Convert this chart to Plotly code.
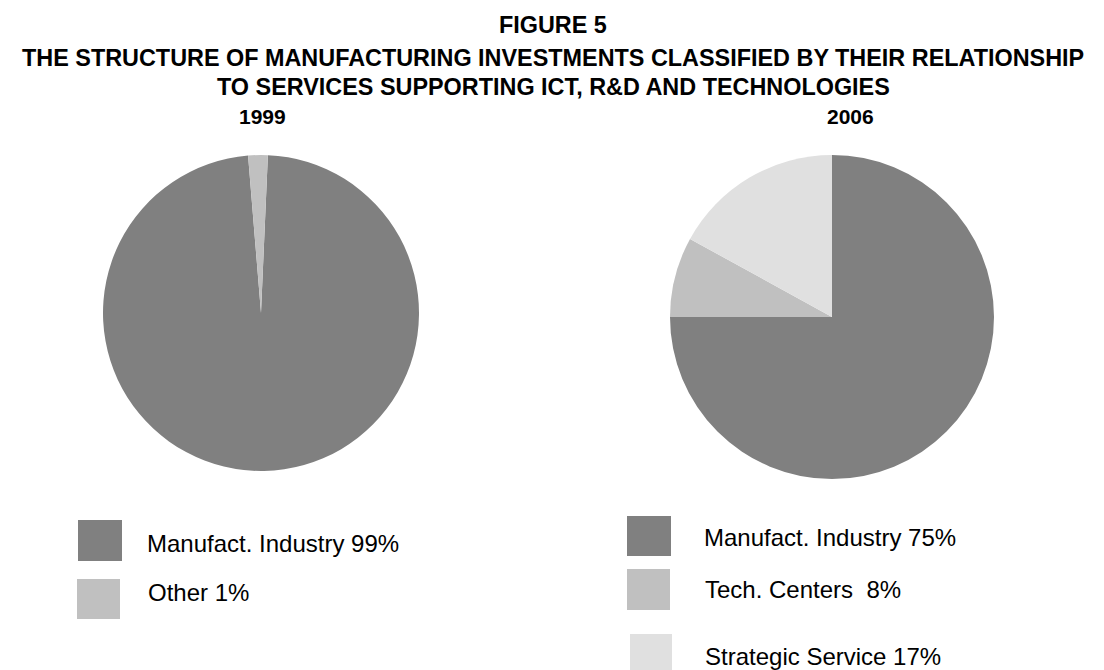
import plotly.graph_objects as go

W, H = 1104, 670

# Data
labels_1999 = ["Manufact. Industry 99%", "Other 1%"]
values_1999 = [98, 2]
labels_2006 = ["Manufact. Industry 75%", "Tech. Centers  8%", "Strategic Service 17%"]
values_2006 = [75, 8, 17]
colors_1999 = ["#808080", "#c0c0c0"]
colors_2006 = ["#808080", "#c0c0c0", "#e0e0e0"]

title_lines = [
    "FIGURE 5",
    "THE STRUCTURE OF MANUFACTURING INVESTMENTS CLASSIFIED BY THEIR RELATIONSHIP",
    "TO SERVICES SUPPORTING ICT, R&D AND TECHNOLOGIES",
]
years = ["1999", "2006"]

FONT = "Arial, 'Liberation Sans', sans-serif"


def px_dom(cx, cy, r):
    return dict(x=[(cx - r) / W, (cx + r) / W],
                y=[(H - (cy + r)) / H, (H - (cy - r)) / H])


fig = go.Figure()
fig.add_trace(go.Pie(
    labels=labels_1999, values=values_1999, sort=False, direction="clockwise",
    rotation=2.5, textinfo="none", hoverinfo="label",
    marker=dict(colors=colors_1999, line=dict(width=0)),
    domain=px_dom(261, 313, 158), showlegend=False))
fig.add_trace(go.Pie(
    labels=labels_2006, values=values_2006, sort=False, direction="clockwise",
    rotation=0, textinfo="none", hoverinfo="label",
    marker=dict(colors=colors_2006, line=dict(width=0)),
    domain=px_dom(832, 317, 162), showlegend=False))

annotations = []
# Title lines
for txt, y in zip(title_lines, [25, 58, 87]):
    annotations.append(dict(text=f"<b>{txt}</b>", x=553 / W, y=(H - y) / H,
                            xref="paper", yref="paper", xanchor="center", yanchor="middle",
                            showarrow=False, font=dict(family=FONT, size=23.4, color="black")))
for txt, x in zip(years, [262, 850]):
    annotations.append(dict(text=f"<b>{txt}</b>", x=x / W, y=(H - 116) / H,
                            xref="paper", yref="paper", xanchor="center", yanchor="middle",
                            showarrow=False, font=dict(family=FONT, size=21, color="black")))

shapes = []
# Legend 1999
leg1 = [((78, 520, 122, 561), (145, 543)), ((77, 579, 120, 619), (146, 592))]
for (box, tpos), lab, col in zip(leg1, labels_1999, colors_1999):
    x0, y0, x1, y1 = box
    shapes.append(dict(type="rect", xref="paper", yref="paper",
                       x0=x0 / W, x1=x1 / W, y0=(H - y1) / H, y1=(H - y0) / H,
                       fillcolor=col, line=dict(width=0)))
    annotations.append(dict(text=lab, x=tpos[0] / W, y=(H - tpos[1]) / H,
                            xref="paper", yref="paper", xanchor="left", yanchor="middle",
                            showarrow=False, font=dict(family=FONT, size=24, color="black")))
# Legend 2006
leg2 = [((627, 516, 671, 556), (702, 537)), ((627, 569, 670, 610), (703, 589)),
        ((630, 634, 672, 674), (703, 656))]
for (box, tpos), lab, col in zip(leg2, labels_2006, colors_2006):
    x0, y0, x1, y1 = box
    shapes.append(dict(type="rect", xref="paper", yref="paper",
                       x0=x0 / W, x1=x1 / W, y0=(H - y1) / H, y1=(H - y0) / H,
                       fillcolor=col, line=dict(width=0)))
    annotations.append(dict(text=lab, x=tpos[0] / W, y=(H - tpos[1]) / H,
                            xref="paper", yref="paper", xanchor="left", yanchor="middle",
                            showarrow=False, font=dict(family=FONT, size=24, color="black")))

fig.update_layout(width=W, height=H, margin=dict(l=0, r=0, t=0, b=0),
                  paper_bgcolor="white", plot_bgcolor="white",
                  annotations=annotations, shapes=shapes, showlegend=False)

fig.write_html("out.html")
